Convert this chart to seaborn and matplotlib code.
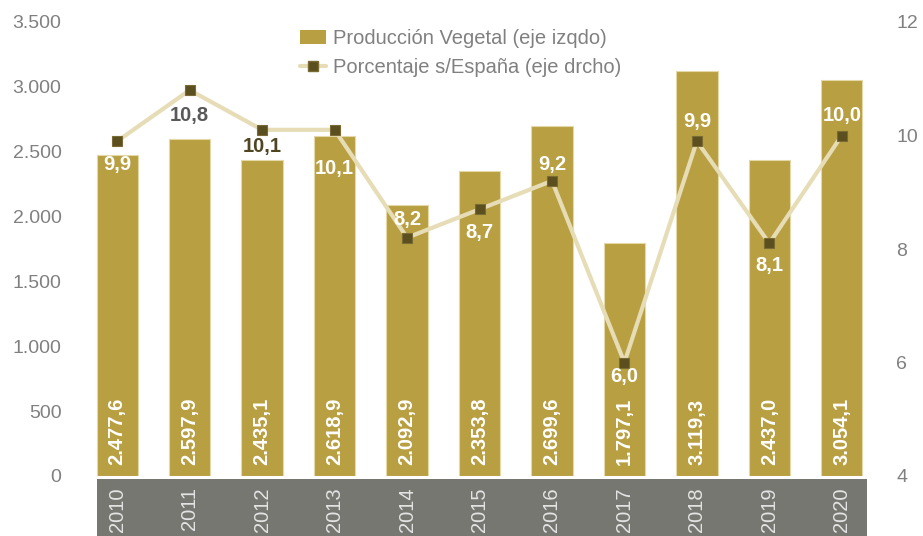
import numpy as np
import pandas as pd
import matplotlib
matplotlib.use("Agg")
import matplotlib.pyplot as plt
import seaborn as sns
from matplotlib.patches import Patch, Rectangle
from matplotlib.lines import Line2D
from matplotlib.ticker import FuncFormatter

# ---- data ----
years = ["2010", "2011", "2012", "2013", "2014", "2015", "2016", "2017", "2018", "2019", "2020"]
produccion = [2477.6, 2597.9, 2435.1, 2618.9, 2092.9, 2353.8, 2699.6, 1797.1, 3119.3, 2437.0, 3054.1]
porcentaje = [9.9, 10.8, 10.1, 10.1, 8.2, 8.7, 9.2, 6.0, 9.9, 8.1, 10.0]
left_ticks = [0, 500, 1000, 1500, 2000, 2500, 3000, 3500]
right_ticks = [4, 6, 8, 10, 12]
legend_labels = ["Producción Vegetal (eje izqdo)", "Porcentaje s/España (eje drcho)"]

# ---- styles ----
BAR = "#B89F42"
BAR_EDGE = "#E3D8A6"
LINE = "#E6DCB6"
MARK = "#5C4F1F"
TXT = "#808080"
BAND = "#777772"
# label offsets (points, vertical, + = up) and colours for the line labels
pct_offsets = [-17, -18, -12, -28, 13, -16.5, 12, -10, 14.5, -16, 14.5]
pct_colors = ["white", "#595959", "#4F4521", "white", "white", "white", "white",
              "white", "white", "white", "white"]

sns.set_style("white")
plt.rcParams["font.family"] = ["Liberation Sans", "DejaVu Sans"]


def es_fmt(v, dec=1):
    s = f"{v:,.{dec}f}"
    return s.replace(",", "X").replace(".", ",").replace("X", ".")


df = pd.DataFrame({"year": years, "x": np.arange(len(years)),
                   "prod": produccion, "pct": porcentaje})

fig = plt.figure(figsize=(9.23, 5.36), dpi=100)
ax = fig.add_axes([81 / 923, 60 / 536, (878 - 81) / 923, 454 / 536])
ax.set_facecolor("none")

# grey band under the axis
fig.patches.append(Rectangle((97 / 923, 0), (867 - 97) / 923, 57 / 536,
                             transform=fig.transFigure, facecolor=BAND,
                             edgecolor="none", zorder=-1))

sns.barplot(data=df, x="year", y="prod", color=BAR, width=0.57, ax=ax,
            edgecolor=BAR_EDGE, linewidth=0.8, saturation=1)
ax.set_xlim(-0.5, len(years) - 0.5)
ax.set_ylim(0, 3500)
ax.set_yticks(left_ticks)
ax.yaxis.set_major_formatter(FuncFormatter(lambda v, p: es_fmt(v, 0)))
ax.set_xlabel("")
ax.set_ylabel("")
for s in ax.spines.values():
    s.set_visible(False)
ax.tick_params(axis="y", length=0, pad=14, labelsize=14, labelcolor=TXT)
ax.tick_params(axis="x", which="major", length=0, pad=8, labelsize=14.5,
               labelcolor="#E4E4E4", labelrotation=90)
ax.set_xticks(np.arange(len(years) + 1) - 0.5, minor=True)
ax.tick_params(axis="x", which="minor", length=4, color="#D0D0D0", width=0.8)
for lbl in ax.get_xticklabels():
    lbl.set_va("top")

# bar value labels
for i, v in enumerate(produccion):
    ax.annotate(es_fmt(v), (i, 0), xytext=(0, 8), textcoords="offset points",
                rotation=90, ha="center", va="bottom", color="white",
                fontsize=14.5, fontweight="bold")

# line on secondary axis
ax2 = ax.twinx()
sns.lineplot(data=df, x="x", y="pct", ax=ax2, color=LINE, linewidth=3,
             marker="s", markersize=7.5, markerfacecolor=MARK,
             markeredgecolor="#7A6B35", markeredgewidth=0.8)
ax2.set_ylim(4, 12)
ax2.set_yticks(right_ticks)
ax2.set_xlim(-0.5, len(years) - 0.5)
ax2.set_xlabel("")
ax2.set_ylabel("")
for s in ax2.spines.values():
    s.set_visible(False)
ax2.tick_params(axis="y", length=0, pad=13, labelsize=14, labelcolor=TXT)

for i, v in enumerate(porcentaje):
    ax2.annotate(es_fmt(v), (i, v), xytext=(0, pct_offsets[i]),
                 textcoords="offset points", ha="center", va="center",
                 color=pct_colors[i], fontsize=14.5, fontweight="bold")

handles = [Patch(facecolor=BAR, edgecolor="none"),
           Line2D([], [], color=LINE, linewidth=3, marker="s", markersize=7,
                  markerfacecolor=MARK, markeredgecolor="#7A6B35")]
fig.legend(handles, legend_labels, loc="upper left",
           bbox_to_anchor=(300 / 923, 1 - 29 / 536), frameon=False,
           fontsize=14.5, labelcolor=TXT, handlelength=1.3, handletextpad=0.35,
           labelspacing=0.5, borderpad=0, borderaxespad=0)

fig.savefig("out.png", dpi=100)
